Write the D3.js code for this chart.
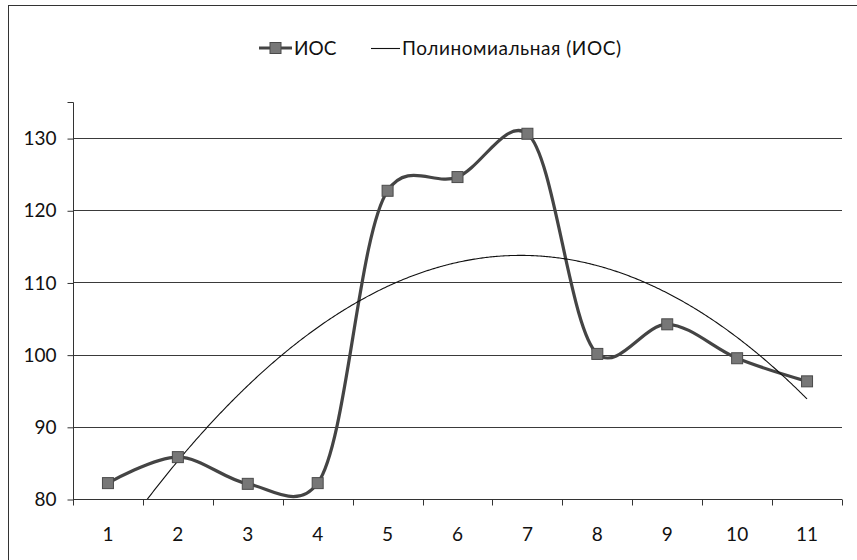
<!DOCTYPE html>
<html>
<head>
<meta charset="utf-8">
<script src="https://cdn.jsdelivr.net/npm/d3@7"></script>
<style>
  html, body { margin: 0; padding: 0; background: #fff; }
  svg { display: block; }
  text { font-family: Lato, "Open Sans", sans-serif; fill: #111; }
</style>
</head>
<body>
<svg id="chart" width="857" height="560"></svg>
<script>
// Categories along the x axis
const categories = ["1", "2", "3", "4", "5", "6", "7", "8", "9", "10", "11"];
// ИОС series values
const iocValues = [82.2, 85.8, 82.1, 82.2, 122.7, 124.6, 130.6, 100.1, 104.2, 99.5, 96.3];
// Y axis tick labels
const yTicks = [80, 90, 100, 110, 120, 130];
const yDomain = [80, 135];
// Legend entries
const seriesName = "ИОС";
const trendName = "Полиномиальная (ИОС)";

const svg = d3.select("#chart");
const W = 857, H = 560;
const plot = { left: 73, right: 842, top: 102, bottom: 499 };

// Outer chart frame
svg.append("rect")
  .attr("x", 8.5).attr("y", 5.5)
  .attr("width", W + 20).attr("height", H + 20)
  .attr("fill", "none").attr("stroke", "#333").attr("stroke-width", 1);

const x = d3.scaleBand().domain(categories).range([plot.left, plot.right]).padding(0);
const y = d3.scaleLinear().domain(yDomain).range([plot.bottom, plot.top]);

// Horizontal gridlines
svg.append("g")
  .selectAll("line")
  .data(yTicks)
  .join("line")
  .attr("x1", plot.left).attr("x2", plot.right)
  .attr("y1", d => Math.round(y(d)) + 0.5).attr("y2", d => Math.round(y(d)) + 0.5)
  .attr("stroke", "#3a3a3a").attr("stroke-width", 1);

// Y axis
const yAxis = d3.axisLeft(y).tickValues(yTicks).tickSize(6).tickPadding(11).tickFormat(d3.format("d"));
const gy = svg.append("g").attr("transform", `translate(${plot.left + 0.5},0.5)`).call(yAxis);
gy.select(".domain").attr("stroke", "#333").attr("d", `M-6,${plot.top}H0V${plot.bottom}`);
gy.selectAll(".tick line").attr("stroke", "#333");
gy.selectAll(".tick text").attr("font-size", 19).attr("fill", "#111")
  .attr("font-family", "Lato, 'Open Sans', sans-serif");

// X axis with ticks on band boundaries
const gx = svg.append("g").attr("transform", `translate(0,${plot.bottom + 0.5})`);
gx.append("line")
  .attr("x1", plot.left).attr("x2", plot.right)
  .attr("stroke", "#333");
const boundaries = categories.map(c => x(c)).concat([x(categories[categories.length - 1]) + x.bandwidth()]);
gx.selectAll("line.tick")
  .data(boundaries)
  .join("line").attr("class", "tick")
  .attr("x1", d => Math.round(d) + 0.5).attr("x2", d => Math.round(d) + 0.5)
  .attr("y1", 0).attr("y2", 6)
  .attr("stroke", "#333");
gx.selectAll("text")
  .data(categories)
  .join("text")
  .attr("x", d => x(d) + x.bandwidth() / 2)
  .attr("y", 41)
  .attr("text-anchor", "middle")
  .attr("font-size", 19)
  .text(d => d);

// Quadratic least-squares trendline computed from the series
const xs = categories.map((c, i) => i + 1);
function quadFit(xv, yv) {
  const n = xv.length;
  let s = [0, 0, 0, 0, 0], t = [0, 0, 0];
  for (let i = 0; i < n; i++) {
    let p = 1;
    for (let k = 0; k <= 4; k++) { s[k] += p; if (k <= 2) t[k] += p * yv[i]; p *= xv[i]; }
  }
  const M = [[s[0], s[1], s[2], t[0]], [s[1], s[2], s[3], t[1]], [s[2], s[3], s[4], t[2]]];
  for (let i = 0; i < 3; i++) {
    for (let j = i + 1; j < 3; j++) {
      const f = M[j][i] / M[i][i];
      for (let k = i; k < 4; k++) M[j][k] -= f * M[i][k];
    }
  }
  const c = [0, 0, 0];
  for (let i = 2; i >= 0; i--) {
    let v = M[i][3];
    for (let k = i + 1; k < 3; k++) v -= M[i][k] * c[k];
    c[i] = v / M[i][i];
  }
  return c;
}
const coef = quadFit(xs, iocValues);
const xPos = v => plot.left + (v - 0.5) * x.bandwidth();
const trendPts = d3.range(1, 11.0001, 0.02).map(v => [v, coef[0] + coef[1] * v + coef[2] * v * v]);

svg.append("clipPath").attr("id", "plotClip")
  .append("rect").attr("x", plot.left).attr("y", plot.top - 20)
  .attr("width", plot.right - plot.left).attr("height", plot.bottom - plot.top + 20);

// Smoothed series line
const lineGen = d3.line()
  .x((d, i) => x(categories[i]) + x.bandwidth() / 2)
  .y(d => y(d))
  .curve(d3.curveCatmullRom.alpha(0.25));
svg.append("path")
  .datum(iocValues)
  .attr("d", lineGen)
  .attr("fill", "none")
  .attr("stroke", "#444")
  .attr("stroke-width", 3.2)
  .attr("stroke-linejoin", "round");

// Trendline (clipped to the plot area)
svg.append("path")
  .datum(trendPts)
  .attr("clip-path", "url(#plotClip)")
  .attr("d", d3.line().x(d => xPos(d[0])).y(d => y(d[1])))
  .attr("fill", "none")
  .attr("stroke", "#111")
  .attr("stroke-width", 1.1);

// Square markers
const ms = 11;
svg.append("g")
  .selectAll("rect")
  .data(iocValues)
  .join("rect")
  .attr("x", (d, i) => x(categories[i]) + x.bandwidth() / 2 - ms / 2)
  .attr("y", d => y(d) - ms / 2)
  .attr("width", ms).attr("height", ms)
  .attr("fill", "#777").attr("stroke", "#4a4a4a").attr("stroke-width", 1);

// Legend
const lg = svg.append("g").attr("transform", "translate(0,48)");
lg.append("line").attr("x1", 259).attr("x2", 292).attr("y1", 0).attr("y2", 0)
  .attr("stroke", "#444").attr("stroke-width", 3.2);
lg.append("rect").attr("x", 275.5 - ms / 2).attr("y", -ms / 2).attr("width", ms).attr("height", ms)
  .attr("fill", "#777").attr("stroke", "#4a4a4a");
lg.append("text").attr("x", 294).attr("y", 7).attr("font-size", 19).text(seriesName);
lg.append("line").attr("x1", 371).attr("x2", 400).attr("y1", 0.5).attr("y2", 0.5)
  .attr("stroke", "#111").attr("stroke-width", 1.1);
lg.append("text").attr("x", 402).attr("y", 7).attr("font-size", 19)
  .attr("textLength", 219).attr("lengthAdjust", "spacing").text(trendName);
</script>
</body>
</html>
